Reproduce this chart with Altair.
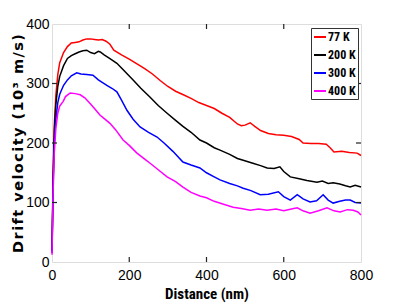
import altair as alt
import pandas as pd

series = ["77 K", "200 K", "300 K", "400 K"]
colors = ["#ff0000", "#000000", "#0000ff", "#ff00ff"]

d77 = [0, 3, 6, 10, 15, 20, 30, 40, 50, 60, 70, 80, 90, 100, 110, 120, 130, 140, 150, 160, 180, 200, 220, 240, 260, 280, 300, 320, 340, 360, 380, 400, 420, 440, 460, 480, 490, 500, 513, 525, 540, 560, 580, 600, 620, 640, 650, 670, 690, 710, 720, 730, 750, 770, 790, 800]
v77 = [20, 150, 230, 280, 315, 335, 352, 362, 368, 369, 370, 373, 375, 375, 374, 373, 374, 371, 366, 356, 348, 341, 333, 325, 316, 305, 295, 287, 281, 275, 268, 263, 258, 250, 243, 232, 229, 230, 234, 228, 221, 216, 214, 213, 211, 206, 200, 199, 199, 198, 192, 185, 186, 184, 183, 179]

d200 = [0, 3, 6, 10, 15, 20, 30, 40, 50, 60, 70, 80, 90, 100, 110, 120, 125, 135, 150, 168, 180, 195, 210, 230, 254, 275, 298, 320, 339, 360, 383, 400, 420, 435, 460, 480, 495, 520, 540, 557, 575, 590, 600, 617, 640, 660, 686, 700, 715, 728, 745, 760, 772, 785, 800]
v200 = [18, 140, 220, 265, 295, 312, 330, 342, 347, 350, 353, 355, 356, 352, 350, 354, 353, 348, 342, 334, 326, 316, 306, 292, 277, 263, 250, 238, 228, 218, 205, 200, 192, 188, 181, 174, 171, 166, 162, 158, 157, 160, 152, 143, 140, 137, 134, 136, 132, 133, 131, 128, 126, 129, 126]

d300 = [0, 3, 6, 10, 15, 20, 30, 40, 50, 64, 75, 90, 106, 120, 142, 155, 168, 180, 194, 210, 228, 250, 272, 290, 313, 339, 360, 383, 400, 420, 435, 460, 480, 495, 515, 539, 560, 586, 600, 617, 635, 650, 668, 685, 702, 715, 728, 745, 760, 772, 785, 800]
v300 = [15, 130, 200, 240, 268, 282, 297, 306, 313, 318, 316, 315, 314, 306, 297, 292, 286, 272, 255, 240, 227, 218, 210, 200, 186, 168, 163, 158, 150, 143, 138, 132, 128, 124, 120, 113, 114, 118, 110, 104, 113, 106, 101, 103, 113, 104, 99, 102, 104, 104, 100, 99]

d400 = [0, 3, 6, 10, 15, 20, 29, 35, 47, 60, 73, 85, 98, 110, 124, 137, 150, 165, 184, 200, 220, 240, 254, 275, 298, 320, 339, 360, 383, 400, 420, 440, 469, 490, 513, 535, 557, 580, 600, 620, 635, 650, 668, 690, 712, 730, 746, 765, 780, 792, 800]
v400 = [12, 120, 185, 225, 250, 262, 270, 278, 284, 283, 281, 276, 267, 258, 247, 240, 233, 222, 205, 196, 183, 173, 166, 155, 143, 135, 126, 117, 111, 108, 102, 98, 92, 90, 87, 89, 87, 89, 86, 89, 91, 86, 82, 86, 91, 86, 84, 88, 87, 84, 79]

x_ticks = [200, 400, 600]
y_ticks = [100, 200, 300]

rows = []
for name, ds, vs in [("77 K", d77, v77), ("200 K", d200, v200), ("300 K", d300, v300), ("400 K", d400, v400)]:
    for i, (d, v) in enumerate(zip(ds, vs)):
        rows.append({"Distance": d, "Velocity": v, "T": name, "order": i})
df = pd.DataFrame(rows)

W, H = 309, 238
NARROW = "Roboto Condensed"
WIDE = "DejaVu Sans"

xs = alt.Scale(domain=[0, 800], nice=False)
ys = alt.Scale(domain=[0, 400], nice=False)
xaxis = alt.Axis(values=[0, 200, 400, 600, 800], ticks=False, domain=False, grid=False,
                 labelPadding=6, titlePadding=4, labelFontSize=14, titleFontSize=15,
                 titleFont=NARROW, labelFlush=False, labelOverlap=False)
yaxis = alt.Axis(values=[0, 100, 200, 300, 400], ticks=False, domain=False, grid=False,
                 labelPadding=3, labelFontSize=14, titleFontSize=14.5,
                 titleFont=WIDE, titleX=-27, labelFlush=False, labelOverlap=False)
XT = "Distance (nm)"
HS = "\u200a"
YT = HS.join("Drift velocity (10³ m/s)")

lines = alt.Chart(df).mark_line(strokeWidth=1.5).encode(
    x=alt.X("Distance:Q", scale=xs, title=XT, axis=xaxis),
    y=alt.Y("Velocity:Q", scale=ys, title=YT, axis=yaxis),
    color=alt.Color("T:N", scale=alt.Scale(domain=series, range=colors),
                    legend=alt.Legend(title=None, orient="none", legendX=259, legendY=4,
                                      strokeColor="#333333", fillColor="white", padding=2,
                                      symbolType="stroke", symbolStrokeWidth=2, symbolSize=144,
                                      labelFont=NARROW, labelFontWeight="bold", labelFontSize=12,
                                      labelColor="black", labelOffset=1, rowPadding=5)),
    order="order:Q",
)

xt = pd.DataFrame({"v": x_ticks})
yt = pd.DataFrame({"v": y_ticks})
tick_style = dict(color="#222222", strokeWidth=1.2)
bottom = alt.Chart(xt).mark_rule(**tick_style).encode(x=alt.X("v:Q", scale=xs, title=XT, axis=xaxis), y=alt.value(H), y2=alt.value(H - 5))
top = alt.Chart(xt).mark_rule(**tick_style).encode(x=alt.X("v:Q", scale=xs, title=XT, axis=xaxis), y=alt.value(0), y2=alt.value(5))
left = alt.Chart(yt).mark_rule(**tick_style).encode(y=alt.Y("v:Q", scale=ys, title=YT, axis=yaxis), x=alt.value(0), x2=alt.value(5))
right = alt.Chart(yt).mark_rule(**tick_style).encode(y=alt.Y("v:Q", scale=ys, title=YT, axis=yaxis), x=alt.value(W), x2=alt.value(W - 5))

chart = alt.layer(lines, bottom, top, left, right).properties(
    width=W, height=H,
    autosize=alt.AutoSizeParams(type="none"),
    padding={"left": 44, "top": 16, "right": 30, "bottom": 45},
).configure_view(
    stroke="#222222", strokeWidth=1.5
).configure_axis(
    labelFont=NARROW, labelFontWeight="bold", labelColor="#1a1a1a",
    titleFontWeight="bold", titleColor="#1a1a1a",
).configure(background="white")

chart.save("out.html", embed_options={"renderer": "svg", "actions": False})
